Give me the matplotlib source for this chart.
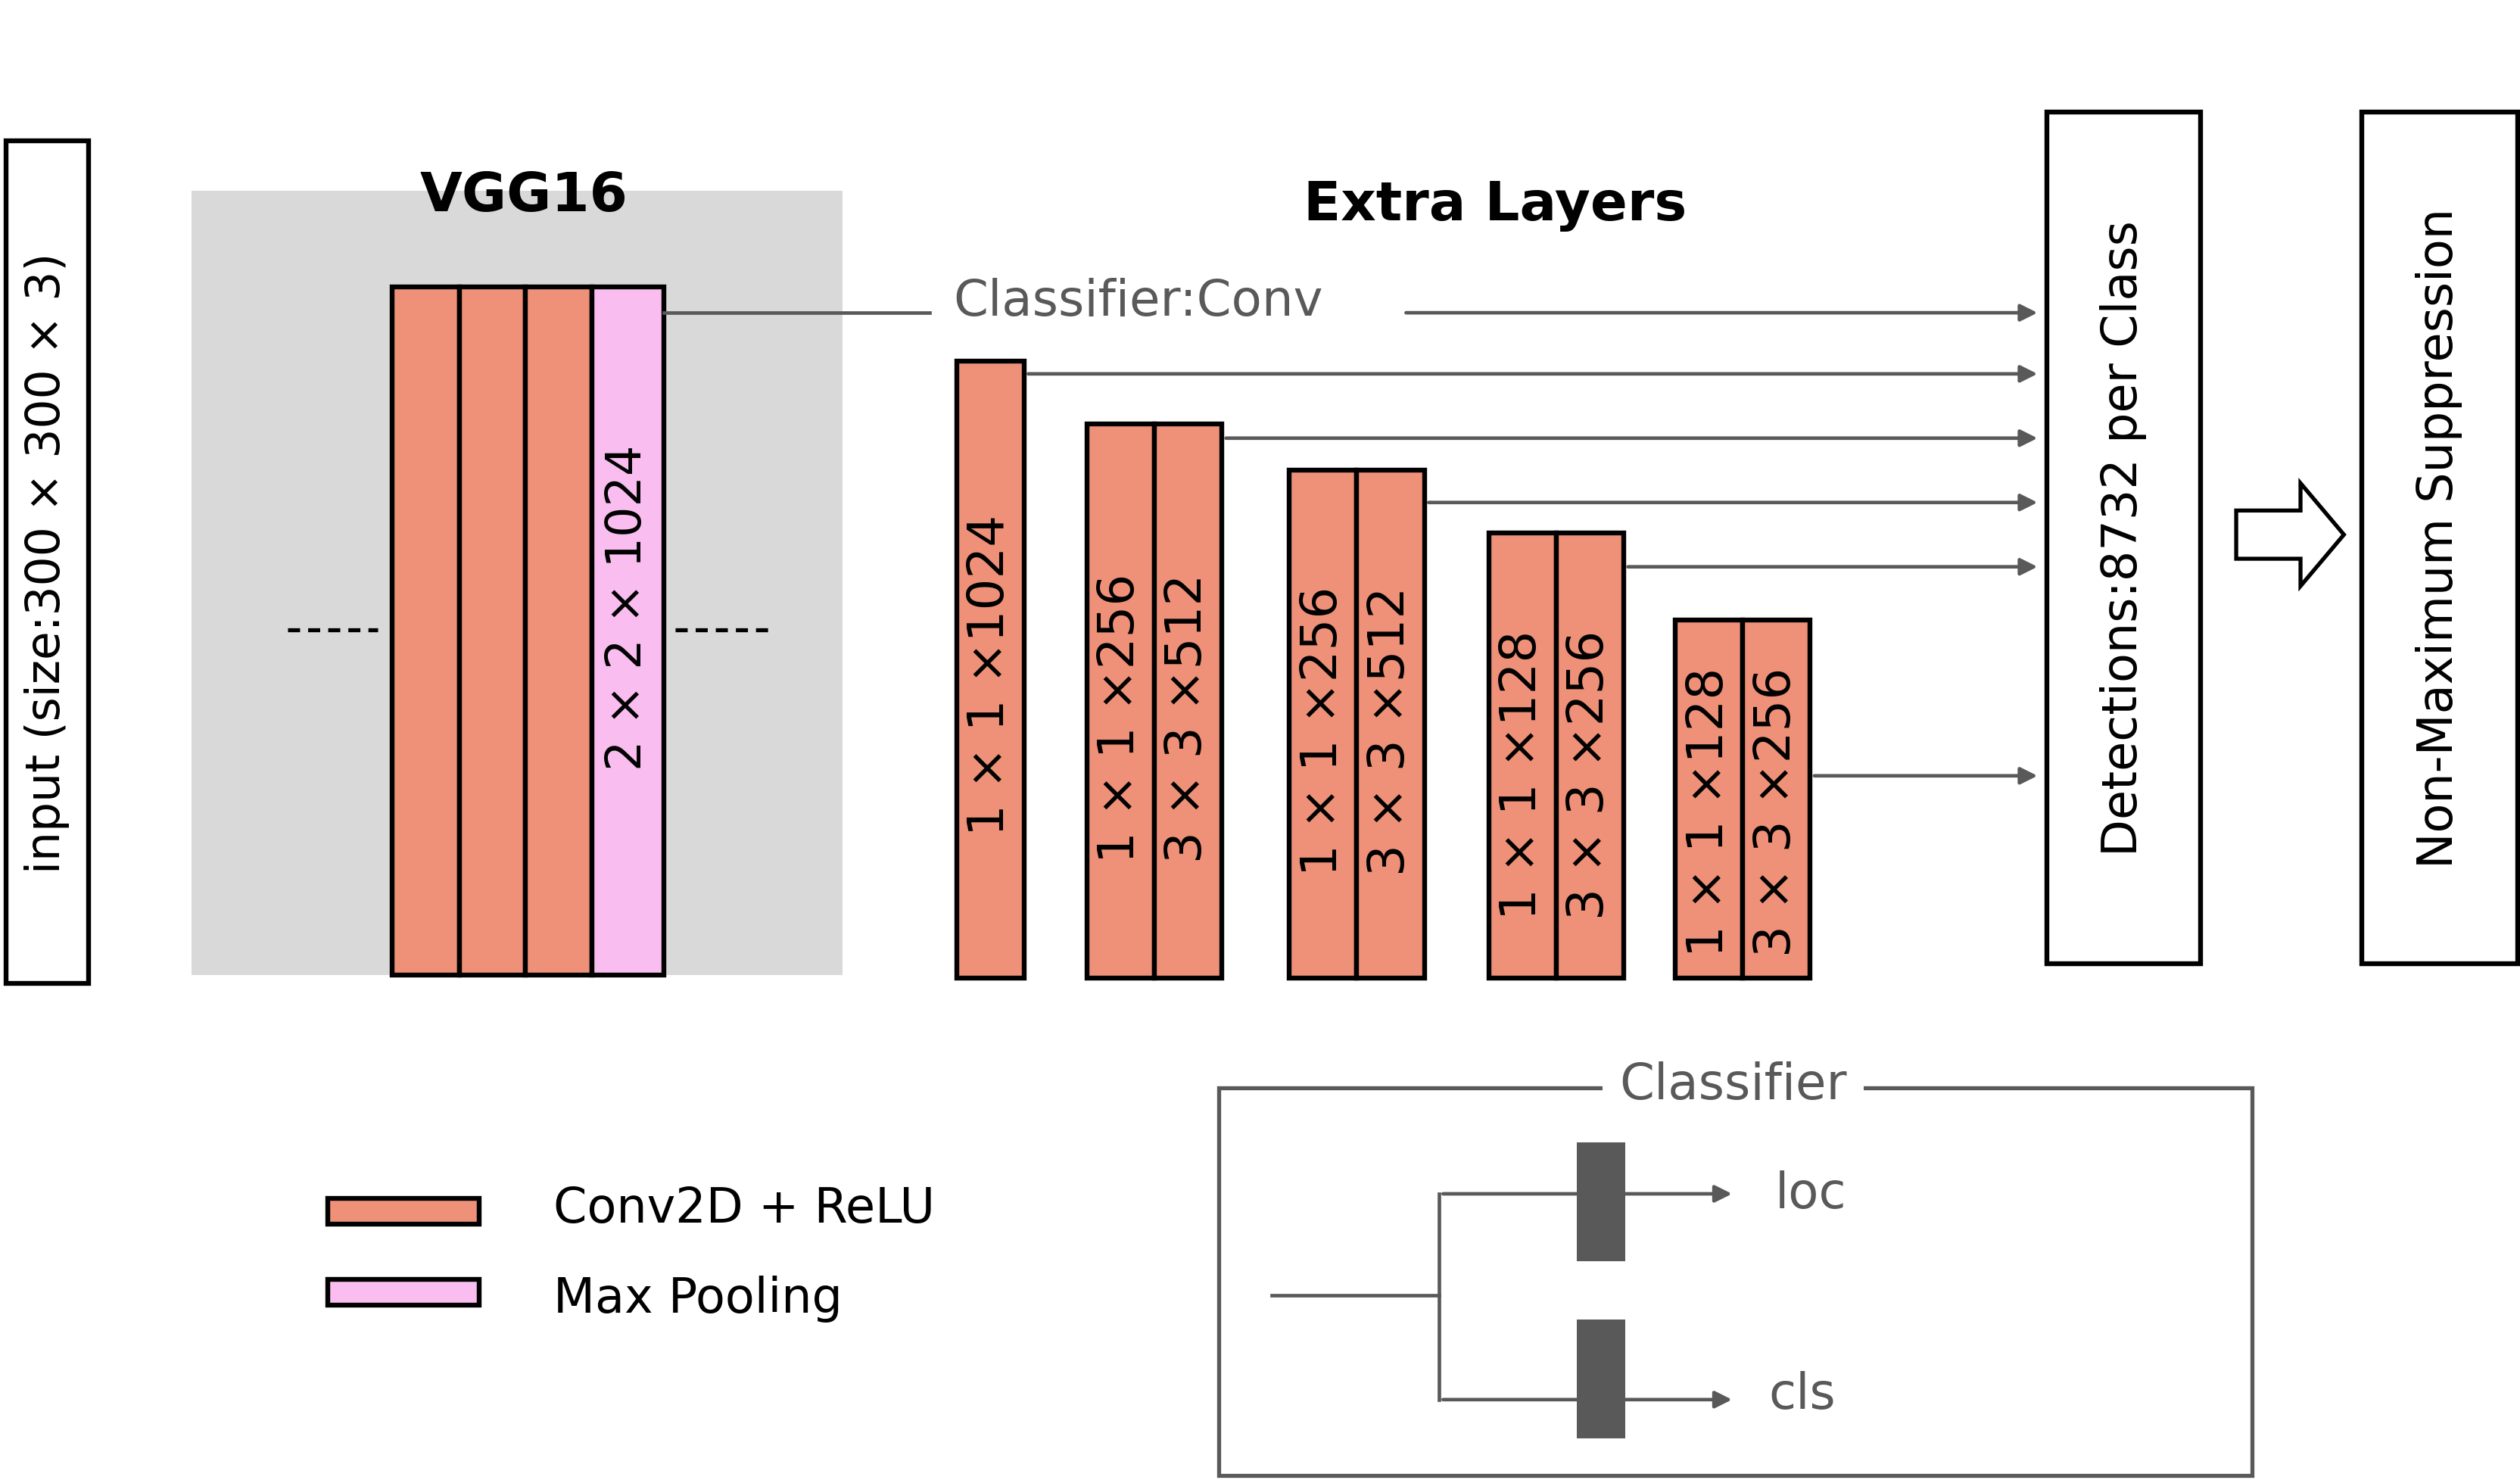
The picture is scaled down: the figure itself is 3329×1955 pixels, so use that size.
import matplotlib

matplotlib.use("Agg")
import matplotlib.pyplot as plt
from matplotlib.patches import Rectangle, FancyArrow

# geometry is in pixels of a 1568x921 canvas
W, H = 1568, 921
SCALE = 3330 / W
DPI = 200

SALMON = "#ee9178"
PINK = "#f9bdf0"
GREY = "#595959"
BG = "#d9d9d9"

vgg_labels = ["", "", "", "2 × 2 × 1024"]
extra_top = [225, 264, 293, 332, 386]
extra_x = [595, 676, 802, 926, 1042]
extra_labels = [["1 × 1 ×1024"], ["1 × 1 ×256", "3 × 3 ×512"], ["1 × 1 ×256", "3 × 3 ×512"],
                ["1 × 1 ×128", "3 × 3 ×256"], ["1 × 1 ×128", "3 × 3 ×256"]]
extra_text_start = [520, 537, 545, 572, 595]
arrow_y = [233, 273, 313, 353, 483]


def fs(px):
    return px * SCALE * 72 / DPI


def lw(px):
    return px * SCALE * 72 / DPI


fig = plt.figure(figsize=(3330 / DPI, 1956 / DPI), dpi=DPI)
ax = fig.add_axes([0, 0, 1, 1])
ax.set_xlim(0, W)
ax.set_ylim(H, 0)
ax.axis("off")


def box(x0, y0, x1, y1, fc="white", ec="black", w=3, z=2):
    ax.add_patch(Rectangle((x0, y0), x1 - x0, y1 - y0, facecolor=fc, edgecolor=ec, linewidth=lw(w), zorder=z))


def arrow(x0, y, x1, color=GREY):
    ax.annotate("", xy=(x1, y), xytext=(x0, y),
                arrowprops=dict(arrowstyle="-|>", color=color, lw=lw(2.2), mutation_scale=fs(22)), zorder=3)


def vtext(x, y, s, size=30, color="black", ha="left"):
    ax.text(x, y, s, rotation=90, rotation_mode="anchor", ha=ha, va="center",
            fontsize=fs(size), color=color, zorder=5)


# input
box(4, 88, 55, 612)
vtext(29, 350, "input (size:300 × 300 × 3)", 29, ha="center")

# VGG16 block
box(119, 119, 524, 607, fc=BG, ec="none", w=0, z=1)
ax.text(326, 122, "VGG16", ha="center", va="center", fontsize=fs(34), fontweight="bold")
vx = [244, 286, 327, 368, 413]
for i, lab in enumerate(vgg_labels):
    box(vx[i], 179, vx[i + 1], 607, fc=PINK if i == 3 else SALMON)
    if lab:
        vtext((vx[i] + vx[i + 1]) / 2, 378, lab, 30, ha="center")
ax.plot([179, 235], [392, 392], color="black", lw=lw(2.5), ls=(0, (3, 2)))
ax.plot([420, 478], [392, 392], color="black", lw=lw(2.5), ls=(0, (3, 2)))

# Extra layers
ax.text(930, 128, "Extra Layers", ha="center", va="center", fontsize=fs(34), fontweight="bold")
ax.text(593, 188, "Classifier:Conv", ha="left", va="center", fontsize=fs(31), color=GREY)
ax.plot([413, 578], [195, 195], color=GREY, lw=lw(2.2))
arrow(872, 195, 1270)
for x, top, labs, ts, ay in zip(extra_x, extra_top, extra_labels, extra_text_start, arrow_y):
    for j, lab in enumerate(labs):
        x0 = x + 42 * j
        box(x0, top, x0 + 42, 609)
        ax.patches[-1].set_facecolor(SALMON)
        vtext(x0 + 21, ts, lab, 31)
    arrow(x + 42 * len(labs), ay, 1270)

# Detections / NMS
box(1273, 70, 1369, 600)
vtext(1321, 335, "Detections:8732 per Class", 30, ha="center")
box(1469, 70, 1566, 600)
vtext(1517, 335, "Non-Maximum Suppression", 30, ha="center")
ax.add_patch(FancyArrow(1391, 333, 40, 0, width=30, head_width=64, head_length=27,
                        length_includes_head=False, facecolor="white", edgecolor="black", linewidth=lw(2.5)))

# legend
box(204, 746, 298, 762, fc=SALMON)
ax.text(344, 752, "Conv2D + ReLU", ha="left", va="center", fontsize=fs(30))
box(204, 796, 298, 812, fc=PINK)
ax.text(344, 808, "Max Pooling", ha="left", va="center", fontsize=fs(30))

# classifier detail
box(758, 677, 1401, 918, fc="none", ec=GREY, w=2.5)
ax.text(1078, 675, "Classifier", ha="center", va="center", fontsize=fs(31), color=GREY,
        bbox=dict(facecolor="white", edgecolor="none", pad=8), zorder=4)
ax.plot([791, 895], [806, 806], color=GREY, lw=lw(2.2))
ax.plot([895, 895], [743, 871], color=GREY, lw=lw(2.2))
arrow(895, 743, 1080)
arrow(895, 871, 1080)
box(981, 711, 1011, 785, fc=GREY, ec="none", w=0, z=4)
box(981, 821, 1011, 895, fc=GREY, ec="none", w=0, z=4)
ax.text(1104, 743, "loc", ha="left", va="center", fontsize=fs(31), color=GREY)
ax.text(1100, 868, "cls", ha="left", va="center", fontsize=fs(31), color=GREY)

fig.savefig("out.png", dpi=DPI)
